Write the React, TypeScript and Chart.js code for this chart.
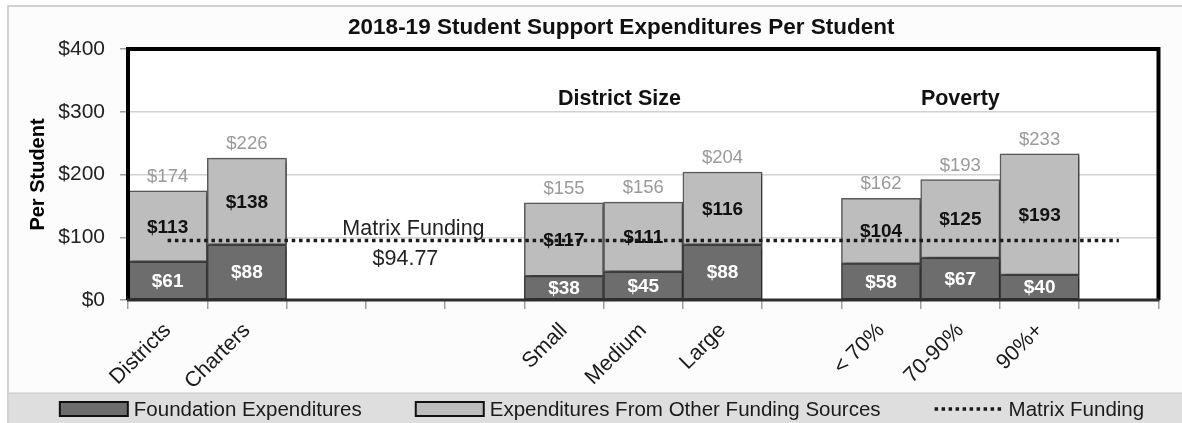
import React, { useEffect, useRef } from 'react';
import { Chart, registerables } from 'chart.js';

Chart.register(...registerables);

const FONT = '"Liberation Sans", Arial, Helvetica, sans-serif';

const chartTitle = '2018-19 Student Support Expenditures Per Student';
const yAxisTitle = 'Per Student';
const categories = ['Districts', 'Charters', '', '', '', 'Small', 'Medium', 'Large', '', '< 70%', '70-90%', '90%+', ''];
const foundationValues = [61, 88, null, null, null, 38, 45, 88, null, 58, 67, 40, null];
const otherSourceValues = [113, 138, null, null, null, 117, 111, 116, null, 104, 125, 193, null];
const totalValues = [174, 226, null, null, null, 155, 156, 204, null, 162, 193, 233, null];
const matrixFundingValues = [94.77, 94.77, 94.77, 94.77, 94.77, 94.77, 94.77, 94.77, 94.77, 94.77, 94.77, 94.77, 94.77];
const matrixLabel = ['Matrix Funding', '$94.77'];
const matrixLabelCategory = 3;
const groupHeaders = ['District Size', 'Poverty'];
const groupHeaderCategories = [5.7, 10];
const yMin = 0;
const yMax = 400;
const yStep = 100;

const DARK = '#6d6d6d';
const LIGHT = '#bdbdbd';

const backgroundPlugin = {
  id: 'bgFrame',
  beforeDraw(chart: any) {
    const { ctx, width, height, chartArea } = chart;
    ctx.save();
    ctx.fillStyle = '#ffffff';
    ctx.fillRect(0, 0, width, height);
    ctx.fillStyle = '#fcfcfc';
    ctx.fillRect(8, 6, width - 8, height - 6);
    ctx.strokeStyle = '#c4c4c4';
    ctx.lineWidth = 1.5;
    ctx.beginPath();
    ctx.moveTo(8, height);
    ctx.lineTo(8, 6);
    ctx.lineTo(width, 6);
    ctx.stroke();
    ctx.fillStyle = '#dedede';
    ctx.fillRect(8.75, 393, width - 8.75, height - 393);
    ctx.strokeStyle = '#c8c8c8';
    ctx.lineWidth = 1;
    ctx.beginPath();
    ctx.moveTo(8.75, 393);
    ctx.lineTo(width, 393);
    ctx.stroke();
    ctx.fillStyle = '#ffffff';
    ctx.fillRect(chartArea.left, chartArea.top, chartArea.right - chartArea.left, chartArea.bottom - chartArea.top);
    ctx.restore();
  },
};

const shadowPlugin = {
  id: 'barShadow',
  beforeDatasetDraw(chart: any, args: any) {
    if (args.meta.type !== 'bar') return;
    const ctx = chart.ctx;
    ctx.save();
    ctx.shadowColor = 'rgba(0,0,0,0.35)';
    ctx.shadowOffsetX = 4;
    ctx.shadowOffsetY = 2;
    ctx.shadowBlur = 4;
  },
  afterDatasetDraw(chart: any, args: any) {
    if (args.meta.type !== 'bar') return;
    chart.ctx.restore();
  },
};

const labelsPlugin = {
  id: 'labelsFrame',
  afterDatasetsDraw(chart: any) {
    const { ctx, chartArea, scales } = chart;
    const xs = scales.x;
    const ys = scales.y;
    ctx.save();
    ctx.strokeStyle = '#000000';
    ctx.lineWidth = 4;
    ctx.beginPath();
    ctx.moveTo(chartArea.left, chartArea.bottom);
    ctx.lineTo(chartArea.left, chartArea.top);
    ctx.lineTo(chartArea.right, chartArea.top);
    ctx.lineTo(chartArea.right, chartArea.bottom);
    ctx.stroke();
    ctx.strokeStyle = '#2e2e2e';
    ctx.lineWidth = 3;
    ctx.beginPath();
    ctx.moveTo(chartArea.left - 1, chartArea.bottom);
    ctx.lineTo(chartArea.right + 1, chartArea.bottom);
    ctx.stroke();

    ctx.textAlign = 'center';
    ctx.textBaseline = 'middle';
    const fMeta = chart.getDatasetMeta(0);
    const oMeta = chart.getDatasetMeta(1);
    fMeta.data.forEach((el: any, i: number) => {
      const v = foundationValues[i];
      if (v == null) return;
      const p = el.getProps(['x', 'y', 'base'], true);
      ctx.font = `bold 19px ${FONT}`;
      ctx.fillStyle = '#ffffff';
      ctx.fillText(`$${v}`, p.x, (p.y + p.base) / 2 + 1);
    });
    oMeta.data.forEach((el: any, i: number) => {
      const v = otherSourceValues[i];
      if (v == null) return;
      const p = el.getProps(['x', 'y', 'base'], true);
      ctx.font = `bold 19px ${FONT}`;
      ctx.fillStyle = '#111111';
      ctx.fillText(`$${v}`, p.x, (p.y + p.base) / 2 + 1);
      const t = totalValues[i];
      if (t != null) {
        ctx.font = `18.5px ${FONT}`;
        ctx.fillStyle = '#9a9a9a';
        ctx.fillText(`$${t}`, p.x, p.y - 14);
      }
    });

    ctx.font = `bold 21.5px ${FONT}`;
    ctx.fillStyle = '#111111';
    groupHeaders.forEach((h, i) => {
      ctx.fillText(h, xs.getPixelForValue(groupHeaderCategories[i]), chartArea.top + 50);
    });

    const mx = xs.getPixelForValue(matrixLabelCategory);
    const my = ys.getPixelForValue(matrixFundingValues[matrixLabelCategory]);
    ctx.font = `21.5px ${FONT}`;
    ctx.fillStyle = '#222222';
    ctx.fillText(matrixLabel[0], mx + 8, my - 11);
    ctx.fillText(matrixLabel[1], mx, my + 19);
    ctx.restore();
  },
  afterDraw(chart: any) {
    const { ctx, chartArea } = chart;
    ctx.save();
    ctx.font = `bold 22.5px ${FONT}`;
    ctx.fillStyle = '#111111';
    ctx.textAlign = 'center';
    ctx.textBaseline = 'middle';
    ctx.fillText(chartTitle, (chartArea.left + chartArea.right) / 2 - 22, 28);

    const items = chart.data.datasets.map((ds: any) => ({
      label: ds.label,
      type: ds.type,
      fill: ds.backgroundColor,
      stroke: ds.borderColor,
    }));
    ctx.font = `20.5px ${FONT}`;
    const sw = 68;
    const gapT = 6;
    const gapI = 54;
    const widths = items.map((it: any) => sw + gapT + ctx.measureText(it.label).width);
    const total = widths.reduce((a: number, b: number) => a + b, 0) + gapI * (items.length - 1);
    let x = 602 - total / 2;
    const y = 409;
    ctx.textAlign = 'left';
    items.forEach((it: any, i: number) => {
      if (it.type === 'line') {
        ctx.strokeStyle = '#1a1a1a';
        ctx.lineWidth = 3.5;
        ctx.setLineDash([3.5, 3.5]);
        ctx.beginPath();
        ctx.moveTo(x, y);
        ctx.lineTo(x + sw, y);
        ctx.stroke();
        ctx.setLineDash([]);
      } else {
        ctx.fillStyle = it.fill;
        ctx.fillRect(x, y - 7, sw, 14);
        ctx.strokeStyle = '#111111';
        ctx.lineWidth = 2;
        ctx.strokeRect(x, y - 7, sw, 14);
      }
      ctx.fillStyle = '#1a1a1a';
      ctx.fillText(it.label, x + sw + gapT, y + 1);
      x += widths[i] + gapI;
    });
    ctx.restore();
  },
};

export default function App() {
  const ref = useRef<HTMLCanvasElement | null>(null);

  useEffect(() => {
    if (!ref.current) return;
    const chart = new Chart(ref.current, {
      type: 'bar',
      data: {
        labels: categories,
        datasets: [
          {
            type: 'bar',
            label: 'Foundation Expenditures',
            data: foundationValues as any,
            backgroundColor: DARK,
            borderColor: '#3c3c3c',
            borderWidth: 1.5,
            borderSkipped: false,
            barPercentage: 1,
            categoryPercentage: 1,
            stack: 'exp',
            order: 1,
          },
          {
            type: 'bar',
            label: 'Expenditures From Other Funding Sources',
            data: otherSourceValues as any,
            backgroundColor: LIGHT,
            borderColor: '#5a5a5a',
            borderWidth: 1.5,
            borderSkipped: false,
            barPercentage: 1,
            categoryPercentage: 1,
            stack: 'exp',
            order: 1,
          },
          {
            type: 'line',
            label: 'Matrix Funding',
            data: matrixFundingValues,
            borderColor: '#1a1a1a',
            backgroundColor: '#1a1a1a',
            borderWidth: 3.5,
            borderDash: [3.5, 3.8],
            pointRadius: 0,
            fill: false,
            stack: 'matrix',
            order: 0,
          } as any,
        ],
      },
      options: {
        responsive: false,
        animation: false,
        layout: { padding: { top: 49, right: 23.5, bottom: 30, left: 0 } },
        plugins: {
          legend: { display: false },
          title: { display: false },
          tooltip: { enabled: false },
        },
        scales: {
          x: {
            stacked: true,
            offset: true,
            grid: {
              offset: true,
              drawOnChartArea: false,
              drawTicks: true,
              tickLength: 9,
              color: '#a0a0a0',
              lineWidth: 1.5,
            },
            border: { display: false },
            ticks: {
              autoSkip: false,
              minRotation: 45,
              maxRotation: 45,
              padding: 9,
              color: '#1a1a1a',
              font: { family: FONT, size: 21.5 },
            },
            afterFit: (s: any) => {
              s.height = 93;
            },
          },
          y: {
            stacked: true,
            min: yMin,
            max: yMax,
            ticks: {
              stepSize: yStep,
              padding: 15,
              color: '#222222',
              font: { family: FONT, size: 21 },
              callback: (v: any) => `$${v}`,
            },
            grid: {
              color: '#d2d2d2',
              lineWidth: 1.5,
              tickLength: 8,
              tickColor: '#a0a0a0',
            },
            border: { display: false },
            title: {
              display: true,
              text: yAxisTitle,
              color: '#000000',
              font: { family: FONT, size: 20, weight: 'bold' },
              padding: { top: 26, bottom: 0 },
            },
            afterFit: (s: any) => {
              s.width = 128;
            },
          },
        },
      },
      plugins: [backgroundPlugin, shadowPlugin, labelsPlugin],
    });
    return () => chart.destroy();
  }, []);

  return (
    <div style={{ position: 'absolute', left: 0, top: 0, width: 1182, height: 423 }}>
      <canvas ref={ref} width={1182} height={423} style={{ display: 'block' }} />
    </div>
  );
}
